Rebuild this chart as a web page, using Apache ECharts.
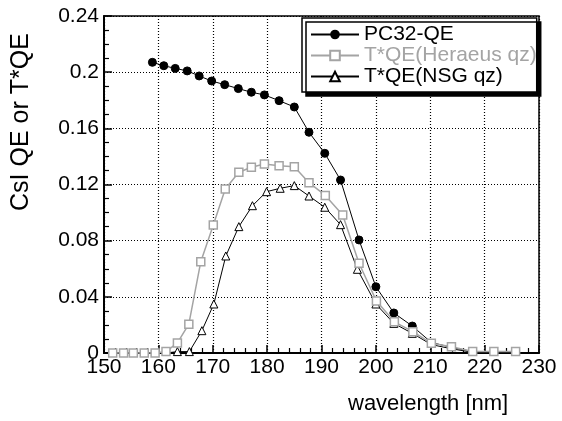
<!DOCTYPE html>
<html>
<head>
<meta charset="utf-8">
<script src="https://cdn.jsdelivr.net/npm/echarts@6/dist/echarts.min.js"></script>
<style>
  html, body { margin: 0; padding: 0; background: #fff; }
  #chart { width: 562px; height: 421px; }
</style>
</head>
<body>
<div id="chart"></div>
<script>
// CsI QE vs wavelength.
var pc32X = [158.9, 161.0, 163.1, 165.3, 167.5, 169.8, 172.2, 174.7, 177.1, 179.5, 182.2, 185.0,
             187.7, 190.6, 193.5, 196.9, 200.0, 203.3, 206.7, 210.2, 213.9, 217.8];
var pc32Y = [0.207, 0.2046, 0.2027, 0.2009, 0.1973, 0.1937, 0.1911, 0.1883, 0.1857, 0.1838, 0.1797, 0.1752,
             0.1572, 0.1422, 0.1232, 0.0805, 0.0472, 0.0285, 0.0192, 0.0075, 0.004, 0.001];

var heraeusX = [151.6, 153.6, 155.4, 157.4, 159.4, 161.4, 163.5, 165.6, 167.8, 170.1, 172.3, 174.8, 177.1, 179.5,
                182.2, 185.0, 187.7, 190.7, 193.9, 196.9, 200.1, 203.4, 206.8, 210.2, 213.9, 217.8, 221.7, 225.7];
var heraeusY = [0, 0, 0, 0, 0, 0.001, 0.0072, 0.0205, 0.065, 0.0912, 0.1168, 0.1287, 0.1323, 0.1346,
                0.1334, 0.1327, 0.1213, 0.1122, 0.0983, 0.0639, 0.037, 0.0222, 0.0152, 0.0069, 0.0045, 0.001, 0.001, 0.001];

var nsgX = [161.4, 163.5, 165.7, 168.0, 170.2, 172.4, 174.8, 177.3, 179.9, 182.4, 185.0, 187.7, 190.6,
            193.5, 196.6, 200.0, 203.3, 206.7, 210.2, 213.9, 217.8];
var nsgY = [0, 0.001, 0.001, 0.0159, 0.0349, 0.0691, 0.09, 0.1049, 0.1149, 0.1173, 0.1192, 0.1118, 0.1038,
            0.0914, 0.0596, 0.0349, 0.0211, 0.014, 0.006, 0.003, 0.0005];

var seriesNames = ["PC32-QE", "T*QE(Heraeus qz)", "T*QE(NSG qz)"];

var GRAY = "#a4a4a4";
var FONT = "Liberation Sans, Arial, sans-serif";

// points that sit under the Heraeus squares get no marker of their own
function pairs(xs, ys, hidden) {
  return xs.map(function (x, i) {
    var item = { value: [x, ys[i]] };
    if (hidden && hidden(x)) item.symbol = "none";
    return item;
  });
}

var chart = echarts.init(document.getElementById("chart"));
chart.setOption({
  animation: false,
  textStyle: { fontFamily: FONT },
  grid: { left: 104, right: 23, top: 16, bottom: 68, show: true, borderColor: "#000", borderWidth: 1.5 },
  legend: {
    orient: "vertical", left: 302, top: 18,
    padding: [6, 0, 5, 8], itemGap: 0, itemWidth: 48, itemHeight: 12,
    backgroundColor: "#fff", borderColor: "#000", borderWidth: 1.5,
    shadowColor: "#000", shadowBlur: 0, shadowOffsetX: 4, shadowOffsetY: 4,
    textStyle: { fontSize: 21, lineHeight: 21, color: "#000", fontFamily: FONT },
    data: [
      { name: seriesNames[0] },
      { name: seriesNames[1], textStyle: { color: GRAY } },
      { name: seriesNames[2] }
    ]
  },
  xAxis: {
    type: "value", min: 150, max: 230, interval: 10,
    axisLine: { onZero: false, lineStyle: { color: "#000", width: 2 } },
    axisTick: { inside: true, length: 8, lineStyle: { color: "#000", width: 1.5 } },
    minorTick: { show: true, splitNumber: 5, length: 5, lineStyle: { color: "#000", width: 1.2 } },
    axisLabel: { color: "#000", fontSize: 21, margin: 4 },
    splitLine: { show: true, lineStyle: { color: "#000", type: [1, 2], width: 1.2 } }
  },
  yAxis: {
    type: "value", min: 0, max: 0.24, interval: 0.04,
    axisLine: { show: true, lineStyle: { color: "#000", width: 2 } },
    axisTick: { show: true, inside: true, length: 8, lineStyle: { color: "#000", width: 1.5 } },
    minorTick: { show: true, splitNumber: 4, length: 5, lineStyle: { color: "#000", width: 1.2 } },
    axisLabel: {
      color: "#000", fontSize: 21, margin: 5,
      formatter: function (v) { return String(parseFloat(v.toFixed(2))); }
    },
    splitLine: { show: true, lineStyle: { color: "#000", type: [1, 2], width: 1.2 } }
  },
  graphic: [
    { type: "text", left: 348, top: 393,
      style: { text: "wavelength [nm]", fontSize: 22, fontFamily: FONT, fill: "#000" } },
    { type: "text", x: 9, y: 211, rotation: Math.PI / 2,
      style: { text: "CsI QE or T*QE", fontSize: 25, fontFamily: FONT, fill: "#000" } }
  ],
  series: [
    {
      name: seriesNames[0], type: "line", z: 3,
      symbol: "circle", symbolSize: 8,
      itemStyle: { color: "#000", borderColor: "#000" },
      lineStyle: { color: "#000", width: 1 },
      data: pairs(pc32X, pc32Y, function (x) { return x > 208; })
    },
    {
      name: seriesNames[2], type: "line", z: 2,
      symbol: "triangle", symbolSize: 8,
      itemStyle: { color: "#fff", borderColor: "#000", borderWidth: 1 },
      lineStyle: { color: "#000", width: 1 },
      data: pairs(nsgX, nsgY, function (x) { return x < 162 || x > 208; })
    },
    {
      name: seriesNames[1], type: "line", z: 4,
      symbol: "rect", symbolSize: 8,
      itemStyle: { color: "#fff", borderColor: GRAY, borderWidth: 1.5 },
      lineStyle: { color: GRAY, width: 1.5 },
      data: pairs(heraeusX, heraeusY)
    }
  ]
});
</script>
</body>
</html>
